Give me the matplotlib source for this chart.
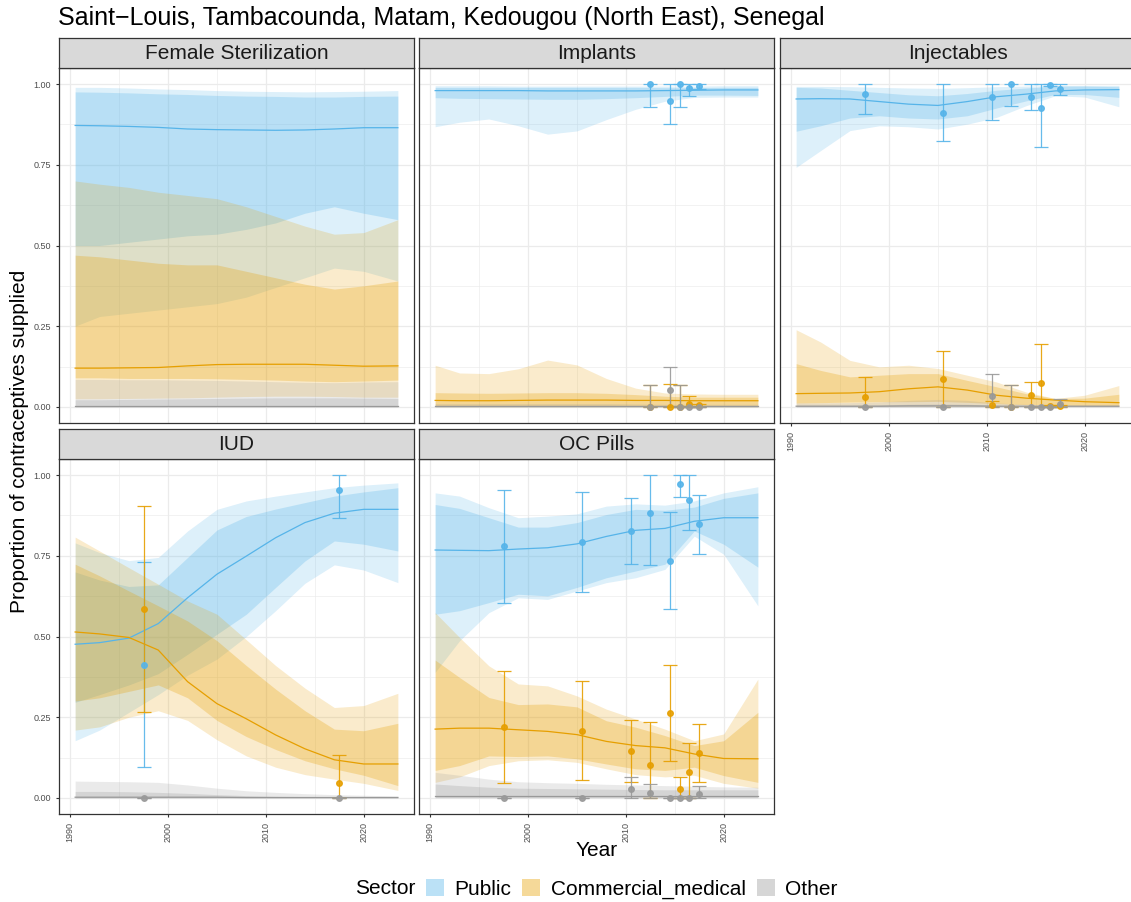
import numpy as np
import matplotlib.pyplot as plt
from matplotlib.patches import Patch

plt.rcParams['font.family'] = ['Liberation Sans', 'DejaVu Sans']

# grid of years for the smoothed estimates
years = [1990.5, 1993, 1996, 1999, 2002, 2005, 2008, 2011, 2014, 2017, 2020, 2023.5]
# survey years for observed points
survey_years = [1997.5, 2005.5, 2010.5, 2012.5, 2014.5, 2015.5, 2016.5, 2017.5]
implant_years = [2012.5, 2014.5, 2015.5, 2016.5, 2017.5]
iud_years = [1997.5, 2017.5]

sectors = ["Public", "Commercial_medical", "Other"]
colors = {"Public": "#56B4E9", "Commercial_medical": "#E69F00", "Other": "#999999"}

# ---- Female Sterilization ----
fs_pub_med = [0.872, 0.871, 0.869, 0.866, 0.861, 0.859, 0.858, 0.857, 0.858, 0.861, 0.865, 0.865]
fs_pub_lo95 = [0.25, 0.28, 0.29, 0.30, 0.31, 0.32, 0.34, 0.37, 0.40, 0.43, 0.42, 0.39]
fs_pub_hi95 = [0.99, 0.99, 0.988, 0.985, 0.983, 0.98, 0.978, 0.977, 0.976, 0.977, 0.978, 0.98]
fs_pub_lo80 = [0.50, 0.50, 0.51, 0.52, 0.53, 0.535, 0.55, 0.57, 0.60, 0.62, 0.60, 0.58]
fs_pub_hi80 = [0.976, 0.975, 0.973, 0.97, 0.968, 0.965, 0.963, 0.962, 0.96, 0.96, 0.962, 0.963]
fs_com_med = [0.12, 0.12, 0.121, 0.122, 0.127, 0.131, 0.132, 0.132, 0.132, 0.129, 0.126, 0.127]
fs_com_lo95 = [0.025, 0.025, 0.026, 0.027, 0.028, 0.03, 0.032, 0.033, 0.033, 0.032, 0.03, 0.03]
fs_com_hi95 = [0.70, 0.69, 0.68, 0.665, 0.655, 0.645, 0.62, 0.59, 0.56, 0.535, 0.54, 0.58]
fs_com_lo80 = [0.09, 0.09, 0.088, 0.088, 0.088, 0.087, 0.085, 0.083, 0.08, 0.078, 0.08, 0.083]
fs_com_hi80 = [0.47, 0.465, 0.455, 0.445, 0.44, 0.44, 0.42, 0.40, 0.38, 0.365, 0.375, 0.39]
fs_oth_med = [0.004, 0.004, 0.004, 0.004, 0.004, 0.004, 0.004, 0.004, 0.004, 0.004, 0.004, 0.004]
fs_oth_lo95 = [0.0, 0.0, 0.0, 0.0, 0.0, 0.0, 0.0, 0.0, 0.0, 0.0, 0.0, 0.0]
fs_oth_hi95 = [0.085, 0.085, 0.084, 0.084, 0.083, 0.082, 0.08, 0.078, 0.076, 0.075, 0.077, 0.078]
fs_oth_lo80 = [0.0, 0.0, 0.0, 0.0, 0.0, 0.0, 0.0, 0.0, 0.0, 0.0, 0.0, 0.0]
fs_oth_hi80 = [0.022, 0.022, 0.023, 0.024, 0.025, 0.026, 0.027, 0.028, 0.028, 0.028, 0.027, 0.026]

# ---- Implants ----
im_pub_med = [0.98, 0.98, 0.98, 0.98, 0.979, 0.979, 0.979, 0.979, 0.98, 0.981, 0.982, 0.982]
im_pub_lo95 = [0.868, 0.882, 0.892, 0.871, 0.845, 0.855, 0.89, 0.922, 0.947, 0.959, 0.96, 0.96]
im_pub_hi95 = [0.995, 0.995, 0.995, 0.994, 0.994, 0.994, 0.994, 0.994, 0.994, 0.994, 0.995, 0.995]
im_pub_lo80 = [0.958, 0.956, 0.955, 0.954, 0.953, 0.953, 0.955, 0.958, 0.962, 0.966, 0.966, 0.965]
im_pub_hi80 = [0.99, 0.99, 0.99, 0.99, 0.99, 0.99, 0.99, 0.99, 0.989, 0.989, 0.99, 0.99]
im_com_med = [0.02, 0.019, 0.019, 0.02, 0.021, 0.021, 0.021, 0.02, 0.02, 0.019, 0.019, 0.019]
im_com_lo95 = [0.0, 0.0, 0.0, 0.0, 0.0, 0.0, 0.0, 0.0, 0.0, 0.0, 0.0, 0.0]
im_com_hi95 = [0.129, 0.105, 0.103, 0.118, 0.145, 0.13, 0.088, 0.058, 0.043, 0.04, 0.039, 0.039]
im_com_lo80 = [0.003, 0.003, 0.003, 0.003, 0.003, 0.003, 0.003, 0.003, 0.003, 0.003, 0.003, 0.003]
im_com_hi80 = [0.044, 0.043, 0.042, 0.043, 0.044, 0.044, 0.042, 0.038, 0.033, 0.03, 0.03, 0.03]
im_oth_med = [0.002, 0.002, 0.002, 0.002, 0.002, 0.002, 0.002, 0.002, 0.002, 0.002, 0.002, 0.002]
im_oth_lo95 = [0.0, 0.0, 0.0, 0.0, 0.0, 0.0, 0.0, 0.0, 0.0, 0.0, 0.0, 0.0]
im_oth_hi95 = [0.01, 0.01, 0.01, 0.01, 0.01, 0.01, 0.01, 0.009, 0.008, 0.008, 0.008, 0.008]
im_oth_lo80 = [0.0, 0.0, 0.0, 0.0, 0.0, 0.0, 0.0, 0.0, 0.0, 0.0, 0.0, 0.0]
im_oth_hi80 = [0.005, 0.005, 0.005, 0.005, 0.005, 0.005, 0.005, 0.004, 0.004, 0.004, 0.004, 0.004]
im_pub_pt = [1.0, 0.948, 1.0, 0.988, 0.993]
im_pub_pt_lo = [0.93, 0.876, 0.93, 0.964, 0.985]
im_pub_pt_hi = [1.0, 1.0, 1.0, 1.0, 1.0]
im_com_pt = [0.0, 0.0, 0.0, 0.01, 0.005]
im_com_pt_lo = [0.0, 0.0, 0.0, 0.0, 0.0]
im_com_pt_hi = [0.067, 0.07, 0.067, 0.033, 0.01]
im_oth_pt = [0.0, 0.052, 0.0, 0.0, 0.0]
im_oth_pt_lo = [0.0, 0.0, 0.0, 0.0, 0.0]
im_oth_pt_hi = [0.067, 0.122, 0.067, 0.0, 0.0]

# ---- Injectables ----
inj_pub_med = [0.954, 0.955, 0.954, 0.946, 0.938, 0.934, 0.946, 0.961, 0.969, 0.979, 0.982, 0.983]
inj_pub_lo95 = [0.742, 0.794, 0.856, 0.871, 0.868, 0.861, 0.876, 0.897, 0.933, 0.964, 0.96, 0.93]
inj_pub_hi95 = [0.993, 0.993, 0.992, 0.99, 0.988, 0.987, 0.989, 0.992, 0.994, 0.996, 0.996, 0.996]
inj_pub_lo80 = [0.854, 0.871, 0.895, 0.902, 0.895, 0.892, 0.902, 0.926, 0.948, 0.968, 0.968, 0.959]
inj_pub_hi80 = [0.99, 0.988, 0.981, 0.974, 0.967, 0.964, 0.971, 0.981, 0.988, 0.994, 0.994, 0.992]
inj_com_med = [0.041, 0.042, 0.043, 0.047, 0.056, 0.062, 0.052, 0.036, 0.027, 0.021, 0.016, 0.013]
inj_com_lo95 = [0.002, 0.002, 0.002, 0.002, 0.002, 0.002, 0.002, 0.002, 0.002, 0.002, 0.002, 0.002]
inj_com_hi95 = [0.239, 0.201, 0.144, 0.124, 0.129, 0.119, 0.098, 0.077, 0.046, 0.026, 0.036, 0.066]
inj_com_lo80 = [0.012, 0.013, 0.015, 0.016, 0.016, 0.017, 0.014, 0.01, 0.007, 0.005, 0.004, 0.003]
inj_com_hi80 = [0.134, 0.113, 0.093, 0.098, 0.103, 0.103, 0.082, 0.062, 0.041, 0.026, 0.027, 0.039]
inj_oth_med = [0.002, 0.002, 0.002, 0.002, 0.003, 0.003, 0.003, 0.002, 0.002, 0.002, 0.002, 0.002]
inj_oth_lo95 = [0.0, 0.0, 0.0, 0.0, 0.0, 0.0, 0.0, 0.0, 0.0, 0.0, 0.0, 0.0]
inj_oth_hi95 = [0.012, 0.012, 0.013, 0.015, 0.02, 0.023, 0.02, 0.012, 0.008, 0.006, 0.005, 0.005]
inj_oth_lo80 = [0.0, 0.0, 0.0, 0.0, 0.0, 0.0, 0.0, 0.0, 0.0, 0.0, 0.0, 0.0]
inj_oth_hi80 = [0.005, 0.005, 0.005, 0.006, 0.008, 0.009, 0.008, 0.005, 0.004, 0.003, 0.003, 0.003]
inj_pub_pt = [0.969, 0.911, 0.959, 1.0, 0.961, 0.925, 0.997, 0.985]
inj_pub_pt_lo = [0.907, 0.825, 0.889, 0.931, 0.921, 0.804, 0.994, 0.967]
inj_pub_pt_hi = [1.0, 1.0, 1.0, 1.0, 1.0, 1.0, 1.0, 1.0]
inj_com_pt = [0.030, 0.087, 0.005, 0.0, 0.038, 0.074, 0.003, 0.002]
inj_com_pt_lo = [0.0, 0.0, 0.0, 0.0, 0.0, 0.0, 0.0, 0.0]
inj_com_pt_hi = [0.091, 0.173, 0.018, 0.067, 0.077, 0.196, 0.006, 0.005]
inj_oth_pt = [0.0, 0.0, 0.034, 0.0, 0.0, 0.0, 0.0, 0.008]
inj_oth_pt_lo = [0.0, 0.0, 0.0, 0.0, 0.0, 0.0, 0.0, 0.0]
inj_oth_pt_hi = [0.0, 0.0, 0.103, 0.067, 0.0, 0.0, 0.0, 0.023]

# ---- IUD ----
iud_pub_med = [0.476, 0.481, 0.495, 0.540, 0.620, 0.693, 0.749, 0.806, 0.853, 0.882, 0.894, 0.894]
iud_pub_lo95 = [0.177, 0.21, 0.265, 0.32, 0.38, 0.43, 0.5, 0.58, 0.665, 0.722, 0.706, 0.667]
iud_pub_hi95 = [0.79, 0.76, 0.735, 0.745, 0.827, 0.894, 0.92, 0.935, 0.948, 0.961, 0.969, 0.976]
iud_pub_lo80 = [0.296, 0.32, 0.35, 0.385, 0.445, 0.507, 0.569, 0.652, 0.734, 0.796, 0.786, 0.765]
iud_pub_hi80 = [0.70, 0.675, 0.655, 0.66, 0.745, 0.83, 0.872, 0.895, 0.915, 0.935, 0.948, 0.961]
iud_com_med = [0.514, 0.508, 0.497, 0.458, 0.36, 0.292, 0.245, 0.195, 0.152, 0.118, 0.105, 0.105]
iud_com_lo95 = [0.21, 0.22, 0.25, 0.27, 0.24, 0.18, 0.13, 0.095, 0.072, 0.058, 0.045, 0.023]
iud_com_hi95 = [0.808, 0.765, 0.713, 0.662, 0.61, 0.569, 0.49, 0.41, 0.34, 0.28, 0.286, 0.324]
iud_com_lo80 = [0.30, 0.31, 0.33, 0.35, 0.31, 0.24, 0.19, 0.15, 0.115, 0.09, 0.07, 0.038]
iud_com_hi80 = [0.724, 0.688, 0.641, 0.595, 0.548, 0.487, 0.41, 0.337, 0.27, 0.213, 0.208, 0.231]
iud_oth_med = [0.002, 0.002, 0.002, 0.002, 0.002, 0.002, 0.001, 0.001, 0.001, 0.001, 0.001, 0.001]
iud_oth_lo95 = [0.0, 0.0, 0.0, 0.0, 0.0, 0.0, 0.0, 0.0, 0.0, 0.0, 0.0, 0.0]
iud_oth_hi95 = [0.052, 0.051, 0.05, 0.048, 0.04, 0.03, 0.022, 0.017, 0.013, 0.01, 0.008, 0.006]
iud_oth_lo80 = [0.0, 0.0, 0.0, 0.0, 0.0, 0.0, 0.0, 0.0, 0.0, 0.0, 0.0, 0.0]
iud_oth_hi80 = [0.02, 0.02, 0.019, 0.017, 0.014, 0.01, 0.007, 0.005, 0.004, 0.003, 0.003, 0.003]
iud_pub_pt = [0.413, 0.954]
iud_pub_pt_lo = [0.095, 0.866]
iud_pub_pt_hi = [0.732, 1.0]
iud_com_pt = [0.585, 0.046]
iud_com_pt_lo = [0.265, 0.0]
iud_com_pt_hi = [0.904, 0.134]
iud_oth_pt = [0.0, 0.0]
iud_oth_pt_lo = [0.0, 0.0]
iud_oth_pt_hi = [0.0, 0.0]

# ---- OC Pills ----
oc_pub_med = [0.768, 0.767, 0.766, 0.771, 0.775, 0.787, 0.81, 0.829, 0.835, 0.857, 0.868, 0.868]
oc_pub_lo95 = [0.389, 0.487, 0.574, 0.62, 0.615, 0.641, 0.667, 0.682, 0.708, 0.811, 0.755, 0.595]
oc_pub_hi95 = [0.945, 0.935, 0.899, 0.868, 0.873, 0.88, 0.904, 0.911, 0.907, 0.92, 0.945, 0.964]
oc_pub_lo80 = [0.569, 0.58, 0.605, 0.631, 0.626, 0.652, 0.682, 0.703, 0.724, 0.827, 0.786, 0.715]
oc_pub_hi80 = [0.909, 0.897, 0.868, 0.839, 0.839, 0.853, 0.878, 0.894, 0.891, 0.901, 0.928, 0.945]
oc_com_med = [0.213, 0.216, 0.216, 0.211, 0.206, 0.196, 0.175, 0.162, 0.155, 0.136, 0.122, 0.121]
oc_com_lo95 = [0.048, 0.065, 0.1, 0.115, 0.118, 0.11, 0.09, 0.072, 0.065, 0.07, 0.045, 0.03]
oc_com_hi95 = [0.574, 0.497, 0.409, 0.353, 0.347, 0.316, 0.275, 0.244, 0.213, 0.177, 0.198, 0.368]
oc_com_lo80 = [0.085, 0.1, 0.13, 0.128, 0.13, 0.121, 0.105, 0.09, 0.085, 0.095, 0.069, 0.048]
oc_com_hi80 = [0.427, 0.373, 0.311, 0.289, 0.291, 0.282, 0.239, 0.219, 0.193, 0.162, 0.177, 0.265]
oc_oth_med = [0.007, 0.007, 0.007, 0.007, 0.007, 0.007, 0.007, 0.007, 0.007, 0.007, 0.007, 0.007]
oc_oth_lo95 = [0.0, 0.0, 0.0, 0.0, 0.0, 0.0, 0.0, 0.0, 0.0, 0.0, 0.0, 0.0]
oc_oth_hi95 = [0.079, 0.07, 0.058, 0.05, 0.047, 0.045, 0.042, 0.04, 0.038, 0.036, 0.034, 0.033]
oc_oth_lo80 = [0.001, 0.001, 0.001, 0.001, 0.001, 0.001, 0.001, 0.001, 0.001, 0.001, 0.001, 0.001]
oc_oth_hi80 = [0.043, 0.038, 0.033, 0.03, 0.029, 0.028, 0.027, 0.026, 0.025, 0.025, 0.025, 0.025]
oc_pub_pt = [0.779, 0.793, 0.827, 0.884, 0.735, 0.974, 0.922, 0.848]
oc_pub_pt_lo = [0.605, 0.638, 0.726, 0.723, 0.585, 0.933, 0.830, 0.756]
oc_pub_pt_hi = [0.954, 0.947, 0.928, 1.0, 0.886, 1.0, 1.0, 0.940]
oc_com_pt = [0.221, 0.207, 0.145, 0.102, 0.264, 0.026, 0.079, 0.139]
oc_com_pt_lo = [0.046, 0.054, 0.048, 0.0, 0.115, 0.0, 0.0, 0.049]
oc_com_pt_hi = [0.394, 0.362, 0.240, 0.235, 0.413, 0.066, 0.169, 0.228]
oc_oth_pt = [0.0, 0.0, 0.028, 0.014, 0.0, 0.0, 0.0, 0.012]
oc_oth_pt_lo = [0.0, 0.0, 0.0, 0.0, 0.0, 0.0, 0.0, 0.0]
oc_oth_pt_hi = [0.0, 0.0, 0.064, 0.043, 0.0, 0.0, 0.0, 0.036]

W, H = 1131, 902
fig = plt.figure(figsize=(W / 100, H / 100), dpi=100)


def px_axes(x0, y0, w, h):
    return fig.add_axes([x0 / W, 1 - (y0 + h) / H, w / W, h / H])


def draw_panel(ax, bands, pts):
    for s in sectors:
        med, lo95, hi95, lo80, hi80 = bands[s]
        ax.fill_between(years, lo95, hi95, color=colors[s], alpha=0.2, lw=0, zorder=2)
        ax.fill_between(years, lo80, hi80, color=colors[s], alpha=0.27, lw=0, zorder=2)
    for s in sectors:
        ax.plot(years, bands[s][0], color=colors[s], lw=0.9, zorder=3)
    if pts is not None:
        xs = pts["x"]
        for s in sectors:
            v, lo, hi = pts[s]
            v, lo, hi = np.array(v), np.array(lo), np.array(hi)
            ax.errorbar(xs, v, yerr=[v - lo, hi - v], fmt="o", color=colors[s],
                        ms=4, elinewidth=0.9, capsize=5.3, capthick=0.9,
                        alpha=0.9, zorder=4)


panels = [
    ("Female Sterilization", 0, 0,
     {"Public": (fs_pub_med, fs_pub_lo95, fs_pub_hi95, fs_pub_lo80, fs_pub_hi80),
      "Commercial_medical": (fs_com_med, fs_com_lo95, fs_com_hi95, fs_com_lo80, fs_com_hi80),
      "Other": (fs_oth_med, fs_oth_lo95, fs_oth_hi95, fs_oth_lo80, fs_oth_hi80)},
     None),
    ("Implants", 0, 1,
     {"Public": (im_pub_med, im_pub_lo95, im_pub_hi95, im_pub_lo80, im_pub_hi80),
      "Commercial_medical": (im_com_med, im_com_lo95, im_com_hi95, im_com_lo80, im_com_hi80),
      "Other": (im_oth_med, im_oth_lo95, im_oth_hi95, im_oth_lo80, im_oth_hi80)},
     {"x": implant_years,
      "Public": (im_pub_pt, im_pub_pt_lo, im_pub_pt_hi),
      "Commercial_medical": (im_com_pt, im_com_pt_lo, im_com_pt_hi),
      "Other": (im_oth_pt, im_oth_pt_lo, im_oth_pt_hi)}),
    ("Injectables", 0, 2,
     {"Public": (inj_pub_med, inj_pub_lo95, inj_pub_hi95, inj_pub_lo80, inj_pub_hi80),
      "Commercial_medical": (inj_com_med, inj_com_lo95, inj_com_hi95, inj_com_lo80, inj_com_hi80),
      "Other": (inj_oth_med, inj_oth_lo95, inj_oth_hi95, inj_oth_lo80, inj_oth_hi80)},
     {"x": survey_years,
      "Public": (inj_pub_pt, inj_pub_pt_lo, inj_pub_pt_hi),
      "Commercial_medical": (inj_com_pt, inj_com_pt_lo, inj_com_pt_hi),
      "Other": (inj_oth_pt, inj_oth_pt_lo, inj_oth_pt_hi)}),
    ("IUD", 1, 0,
     {"Public": (iud_pub_med, iud_pub_lo95, iud_pub_hi95, iud_pub_lo80, iud_pub_hi80),
      "Commercial_medical": (iud_com_med, iud_com_lo95, iud_com_hi95, iud_com_lo80, iud_com_hi80),
      "Other": (iud_oth_med, iud_oth_lo95, iud_oth_hi95, iud_oth_lo80, iud_oth_hi80)},
     {"x": iud_years,
      "Public": (iud_pub_pt, iud_pub_pt_lo, iud_pub_pt_hi),
      "Commercial_medical": (iud_com_pt, iud_com_pt_lo, iud_com_pt_hi),
      "Other": (iud_oth_pt, iud_oth_pt_lo, iud_oth_pt_hi)}),
    ("OC Pills", 1, 1,
     {"Public": (oc_pub_med, oc_pub_lo95, oc_pub_hi95, oc_pub_lo80, oc_pub_hi80),
      "Commercial_medical": (oc_com_med, oc_com_lo95, oc_com_hi95, oc_com_lo80, oc_com_hi80),
      "Other": (oc_oth_med, oc_oth_lo95, oc_oth_hi95, oc_oth_lo80, oc_oth_hi80)},
     {"x": survey_years,
      "Public": (oc_pub_pt, oc_pub_pt_lo, oc_pub_pt_hi),
      "Commercial_medical": (oc_com_pt, oc_com_pt_lo, oc_com_pt_hi),
      "Other": (oc_oth_pt, oc_oth_pt_lo, oc_oth_pt_hi)}),
]

col_x = [59, 419, 780]
row_strip_y = [38, 429]
strip_h = 30
panel_w, panel_h = 355, 355

for name, r, c, bands, pts in panels:
    x0 = col_x[c]
    sy = row_strip_y[r]
    ax = px_axes(x0, sy + strip_h, panel_w, panel_h)
    draw_panel(ax, bands, pts)
    ax.set_xlim(1988.85, 2025.15)
    ax.set_ylim(-0.05, 1.05)
    ax.set_xticks([1990, 2000, 2010, 2020])
    ax.set_xticks([1995, 2005, 2015], minor=True)
    ax.set_yticks([0, 0.25, 0.5, 0.75, 1.0])
    ax.set_yticks([0.125, 0.375, 0.625, 0.875], minor=True)
    ax.set_yticklabels(["0.00", "0.25", "0.50", "0.75", "1.00"])
    ax.grid(which="major", color="#EBEBEB", lw=0.9, zorder=0)
    ax.grid(which="minor", color="#EBEBEB", lw=0.45, zorder=0)
    ax.set_axisbelow(True)
    for sp in ax.spines.values():
        sp.set_color("#333333")
        sp.set_linewidth(0.9)
    ax.tick_params(which="major", length=2.5, color="#333333", labelsize=6.5,
                   labelcolor="#4D4D4D", width=0.8)
    ax.tick_params(which="minor", length=0)
    show_x = (r == 1) or (c == 2)
    show_y = (c == 0)
    ax.tick_params(axis="x", bottom=show_x, labelbottom=show_x, labelrotation=90)
    ax.tick_params(axis="y", left=show_y, labelleft=show_y)
    for lab in ax.get_xticklabels():
        lab.set_va("top")
        lab.set_ha("center")

    sax = px_axes(x0, sy, panel_w, strip_h)
    sax.set_facecolor("#D9D9D9")
    sax.set_xticks([])
    sax.set_yticks([])
    for sp in sax.spines.values():
        sp.set_color("#333333")
        sp.set_linewidth(0.9)
    sax.text(0.5, 0.47, name, ha="center", va="center", fontsize=15,
             color="#1A1A1A", transform=sax.transAxes)

fig.text(58 / W, 1 - 18 / H, "Saint\u2212Louis, Tambacounda, Matam, Kedougou (North East), Senegal",
         ha="left", va="center", fontsize=18)
fig.text(20 / W, 1 - 441 / H, "Proportion of contraceptives supplied", rotation=90,
         ha="center", va="center", fontsize=15)
fig.text(597 / W, 1 - 851 / H, "Year", ha="center", va="center", fontsize=15)

legend_fill = {"Public": "#BBE1F6", "Commercial_medical": "#F5D999", "Other": "#D6D6D6"}
handles = [Patch(facecolor=legend_fill[s], edgecolor="none") for s in sectors]
fig.text(355 / W, 1 - 889 / H, "Sector", ha="left", va="center", fontsize=15)
fig.legend(handles, sectors, loc="center left", bbox_to_anchor=(426 / W, 1 - 889 / H),
           ncol=3, frameon=False, fontsize=15, handlelength=0.85, handleheight=0.85,
           handletextpad=0.5, columnspacing=0.55, borderpad=0, borderaxespad=0)

plt.savefig("out.png", dpi=100)
